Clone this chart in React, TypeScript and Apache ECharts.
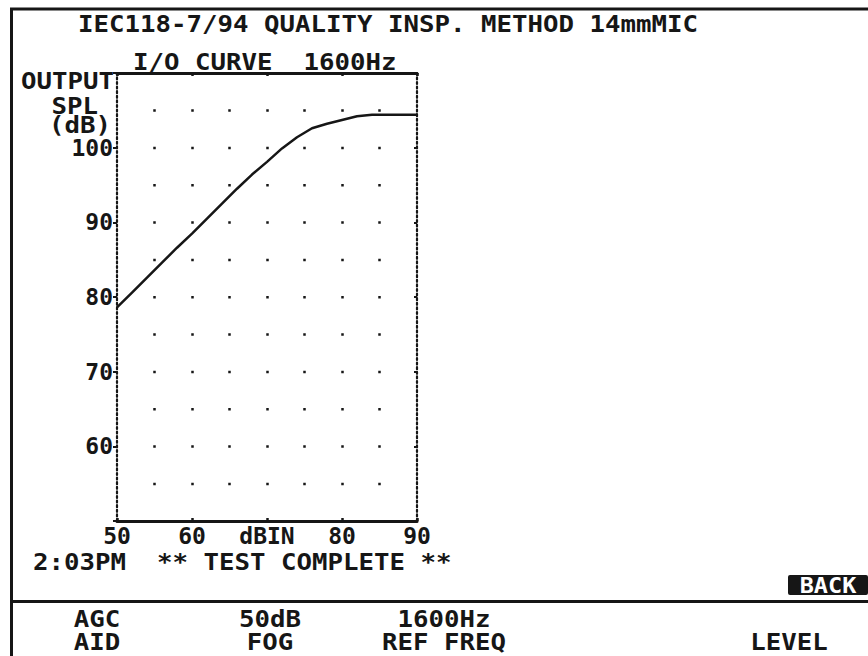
import React, { useEffect, useRef } from "react";
import * as echarts from "echarts";

// ---- data ----
const inputLevels = [50, 52, 54, 56, 58, 60, 62, 64, 66, 68, 70, 72, 74, 76, 78, 80, 82, 84, 86, 88, 90];
const outputSpl = [78.6, 80.6, 82.6, 84.6, 86.6, 88.5, 90.5, 92.5, 94.5, 96.4, 98.1, 99.9, 101.4, 102.6, 103.2, 103.7, 104.2, 104.4, 104.4, 104.4, 104.4];

const xTickLabels: Record<number, string> = { 50: "50", 60: "60", 70: "dBIN", 80: "80", 90: "90" };
const yTickLabels: Record<number, string> = { 60: "60", 70: "70", 80: "80", 90: "90", 100: "100" };

const titleText = "IEC118-7/94 QUALITY INSP. METHOD 14mmMIC";
const subtitleText = "I/O CURVE  1600Hz";
const statusText = "2:03PM  ** TEST COMPLETE **";
const yAxisTitle = ["OUTPUT", "SPL", "(dB)"];
const softKeyTop = ["AGC", "50dB", "1600Hz", "", ""];
const softKeyBottom = ["AID", "FOG", "REF FREQ", "", "LEVEL"];
const backLabel = "BACK";

const FONT = "DejaVu Sans Mono";
const INK = "#161616";

export default function App() {
  const ref = useRef<HTMLDivElement>(null);

  useEffect(() => {
    document.body.style.margin = "0";
    if (!ref.current) return;
    const chart = echarts.init(ref.current, undefined, { renderer: "svg" });

    const sx = 1.12;
    const txt = (text: string, x: number, y: number, align: string, extra: any = {}) => ({
      type: "text",
      x,
      y,
      scaleX: sx,
      style: {
        text,
        fill: INK,
        font: `600 23px "${FONT}"`,
        textAlign: align,
        textVerticalAlign: "middle",
        ...extra,
      },
      z: 10,
    });

    const keyCenters = [97, 270, 444, 617, 789];
    const graphics: any[] = [
      { type: "line", shape: { x1: 11.5, y1: 8, x2: 11.5, y2: 656 }, style: { stroke: INK, lineWidth: 3 } },
      { type: "line", shape: { x1: 10, y1: 9, x2: 868, y2: 9 }, style: { stroke: INK, lineWidth: 3 } },
      { type: "line", shape: { x1: 12, y1: 601.5, x2: 868, y2: 601.5 }, style: { stroke: INK, lineWidth: 3 } },
      txt(titleText, 78, 23.5, "left"),
      txt(subtitleText, 133, 62, "left"),
      txt(statusText, 33, 562, "left"),
      txt(yAxisTitle[0], 114, 81, "right"),
      txt(yAxisTitle[1], 98, 106, "right"),
      txt(yAxisTitle[2], 111, 125, "right"),
      { type: "rect", shape: { x: 788, y: 575, width: 80, height: 20, r: 2 }, style: { fill: INK }, z: 9 },
      txt(backLabel, 828, 585.5, "center", { fill: "#ffffff", font: `bold 21px "${FONT}"` }),
    ];
    keyCenters.forEach((cx, i) => {
      if (softKeyTop[i]) graphics.push(txt(softKeyTop[i], cx, 618.5, "center"));
      if (softKeyBottom[i]) graphics.push(txt(softKeyBottom[i], cx, 641.5, "center"));
    });

    const dotted = { color: INK, width: 2.2, type: [2, 2.6] };

    chart.setOption({
      animation: false,
      backgroundColor: "#ffffff",
      grid: { left: 117, top: 73, width: 300, height: 448, containLabel: false },
      xAxis: [
        {
          type: "value",
          position: "bottom",
          min: 50,
          max: 90,
          interval: 10,
          axisLine: { show: true, lineStyle: { color: INK, width: 3 } },
          axisTick: { show: true, inside: true, length: 3, lineStyle: { color: INK, width: 2.5 } },
          axisLabel: {
            show: true,
            margin: 3,
            color: INK,
            fontFamily: FONT,
            fontWeight: 600,
            fontSize: 23,
            formatter: (v: number) => xTickLabels[v] ?? "",
          },
          splitLine: { show: false },
        },
        {
          type: "value",
          position: "top",
          min: 50,
          max: 90,
          interval: 10,
          axisLine: { show: true, lineStyle: { color: INK, width: 3 } },
          axisTick: { show: true, inside: true, length: 3, lineStyle: { color: INK, width: 2.5 } },
          axisLabel: { show: false },
          splitLine: { show: false },
        },
        {
          type: "value",
          position: "bottom",
          min: 50,
          max: 90,
          interval: 5,
          axisLine: { show: false },
          axisTick: { show: false },
          axisLabel: { show: false },
          splitLine: {
            show: true,
            showMinLine: false,
            showMaxLine: false,
            lineStyle: { color: INK, width: 2.5, type: [2.5, 448 / 12 - 2.5], dashOffset: 1.25 },
          },
        },
      ],
      yAxis: [
        {
          type: "value",
          position: "left",
          min: 50,
          max: 110,
          interval: 10,
          axisLine: { show: true, lineStyle: dotted },
          axisTick: { show: true, inside: false, length: 4, lineStyle: { color: INK, width: 2 } },
          axisLabel: {
            show: true,
            margin: 4,
            color: INK,
            fontFamily: FONT,
            fontWeight: 600,
            fontSize: 23,
            formatter: (v: number) => yTickLabels[v] ?? "",
          },
          splitLine: { show: false },
        },
        {
          type: "value",
          position: "right",
          min: 50,
          max: 110,
          interval: 10,
          axisLine: { show: true, lineStyle: dotted },
          axisTick: { show: true, inside: true, length: 3, lineStyle: { color: INK, width: 2 } },
          axisLabel: { show: false },
          splitLine: { show: false },
        },
      ],
      series: [
        {
          type: "line",
          xAxisIndex: 0,
          yAxisIndex: 0,
          data: inputLevels.map((x, i) => [x, outputSpl[i]]),
          showSymbol: false,
          lineStyle: { color: INK, width: 2.5 },
          z: 5,
        },
      ],
      graphic: graphics,
    });

    return () => chart.dispose();
  }, []);

  return <div ref={ref} style={{ width: 868, height: 656 }} />;
}
